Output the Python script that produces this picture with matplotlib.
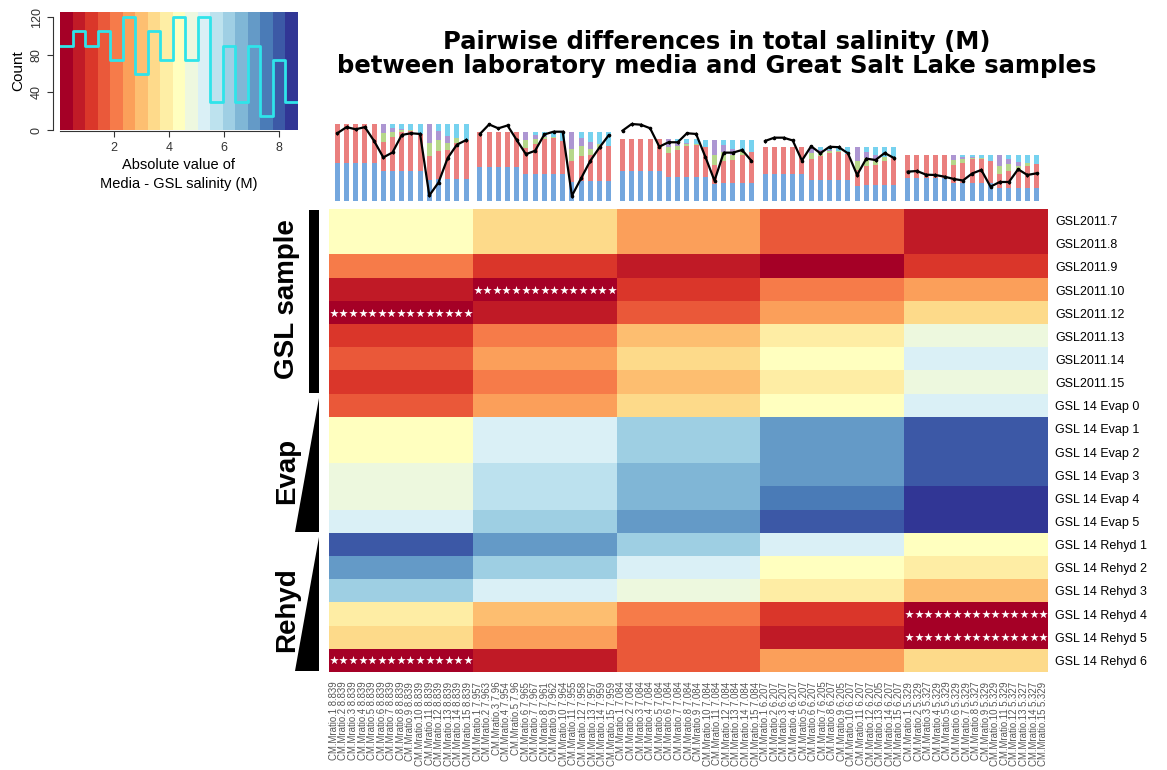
import numpy as np
import matplotlib
matplotlib.use("Agg")
import matplotlib.pyplot as plt
from matplotlib.colors import BoundaryNorm
from matplotlib.patches import Polygon, Rectangle

plt.rcParams['font.family'] = ['Liberation Sans', 'DejaVu Sans']

W, H = 1167, 770

# -- data
samples = ["GSL2011.7", "GSL2011.8", "GSL2011.9", "GSL2011.10", "GSL2011.12",
           "GSL2011.13", "GSL2011.14", "GSL2011.15", "GSL 14 Evap 0",
           "GSL 14 Evap 1", "GSL 14 Evap 2", "GSL 14 Evap 3", "GSL 14 Evap 4",
           "GSL 14 Evap 5", "GSL 14 Rehyd 1", "GSL 14 Rehyd 2", "GSL 14 Rehyd 3",
           "GSL 14 Rehyd 4", "GSL 14 Rehyd 5", "GSL 14 Rehyd 6"]

sample_groups = [("GSL sample", 8, "bar"), ("Evap", 6, "wedge"), ("Rehyd", 6, "wedge")]

# media salinity (M) of each CM.Mratio medium, one list per salinity level
media_sal = [
    [8.839] * 15,
    [7.957, 7.963, 7.96, 7.954, 7.96, 7.965, 7.967, 7.961, 7.962, 7.964, 7.955, 7.958, 7.957, 7.959, 7.959],
    [7.084] * 15,
    [6.207, 6.207, 6.207, 6.207, 6.207, 6.207, 6.205, 6.207, 6.205, 6.207, 6.207, 6.207, 6.205, 6.207, 6.207],
    [5.329, 5.329, 5.327, 5.329, 5.329, 5.329, 5.329, 5.327, 5.329, 5.329, 5.329, 5.327, 5.327, 5.327, 5.329],
]

# |media - GSL| salinity (M): rows = samples, columns = media salinity level
diff_M = np.array([
    [4.4, 3.5, 2.5, 1.6, 0.7],
    [4.4, 3.5, 2.5, 1.6, 0.7],
    [2.1, 1.2, 0.7, 0.3, 1.2],
    [0.7, 0.3, 1.2, 2.1, 2.5],
    [0.3, 0.7, 1.6, 2.5, 3.5],
    [1.2, 2.1, 3.0, 3.9, 4.8],
    [1.6, 2.5, 3.5, 4.4, 5.3],
    [1.2, 2.1, 3.0, 3.9, 4.8],
    [1.6, 2.5, 3.5, 4.4, 5.3],
    [4.4, 5.3, 6.2, 7.1, 8.0],
    [4.4, 5.3, 6.2, 7.1, 8.0],
    [4.8, 5.7, 6.6, 7.1, 8.0],
    [4.8, 5.7, 6.6, 7.6, 8.5],
    [5.3, 6.2, 7.1, 8.0, 8.5],
    [8.0, 7.1, 6.2, 5.3, 4.4],
    [7.1, 6.2, 5.3, 4.4, 3.9],
    [6.2, 5.3, 4.8, 3.9, 3.0],
    [3.9, 3.0, 2.1, 1.2, 0.3],
    [3.5, 2.5, 1.6, 0.7, 0.3],
    [0.3, 0.7, 1.6, 2.5, 3.5],
])

# (sample row, media level) cells marked with asterisks
star_cells = [(3, 1), (4, 0), (17, 4), (18, 4), (19, 0)]

# media composition (M) stacked in the top bar chart
blue_M = [
    [4.30, 4.30, 4.30, 4.30, 4.30, 3.40, 3.40, 3.40, 3.40, 3.40, 2.40, 2.50, 2.50, 2.50, 2.50],
    [3.87, 3.87, 3.87, 3.87, 3.87, 3.06, 3.06, 3.06, 3.06, 3.06, 2.16, 2.25, 2.25, 2.25, 2.25],
    [3.44, 3.44, 3.44, 3.44, 3.44, 2.72, 2.72, 2.72, 2.72, 2.72, 1.92, 2.00, 2.00, 2.00, 2.00],
    [3.01, 3.01, 3.01, 3.01, 3.01, 2.38, 2.38, 2.38, 2.38, 2.38, 1.68, 1.75, 1.75, 1.75, 1.75],
    [2.58, 2.58, 2.58, 2.58, 2.58, 2.04, 2.04, 2.04, 2.04, 2.04, 1.44, 1.50, 1.50, 1.50, 1.50],
]
red_M = [
    [4.54, 4.54, 4.54, 4.54, 4.54, 3.40, 3.90, 4.50, 4.65, 4.30, 2.70, 3.20, 3.30, 4.10, 4.50],
    [4.09, 4.09, 4.09, 4.09, 4.09, 3.06, 3.51, 4.05, 4.19, 3.87, 2.43, 2.88, 2.97, 3.69, 4.05],
    [3.63, 3.63, 3.63, 3.63, 3.63, 2.72, 3.12, 3.60, 3.72, 3.44, 2.16, 2.56, 2.64, 3.28, 3.60],
    [3.18, 3.18, 3.18, 3.18, 3.18, 2.38, 2.73, 3.15, 3.26, 3.01, 1.89, 2.24, 2.31, 2.87, 3.15],
    [2.72, 2.72, 2.72, 2.72, 2.72, 2.04, 2.34, 2.70, 2.79, 2.58, 1.62, 1.92, 1.98, 2.46, 2.70],
]
green_M = [
    [0, 0, 0, 0, 0, 1.00, 0.60, 0.20, 0.10, 0, 1.50, 1.30, 0.80, 0.60, 0],
    [0, 0, 0, 0, 0, 0.90, 0.54, 0.18, 0.09, 0, 1.35, 1.17, 0.72, 0.54, 0],
    [0, 0, 0, 0, 0, 0.80, 0.48, 0.16, 0.08, 0, 1.20, 1.04, 0.64, 0.48, 0],
    [0, 0, 0, 0, 0, 0.70, 0.42, 0.14, 0.07, 0, 1.05, 0.91, 0.56, 0.42, 0],
    [0, 0, 0, 0, 0, 0.60, 0.36, 0.12, 0.06, 0, 0.90, 0.78, 0.48, 0.36, 0],
]
purple_M = [
    [0, 0, 0, 0, 0, 1.04, 0.50, 0.20, 0, 0, 2.20, 1.00, 0.90, 0, 0],
    [0, 0, 0, 0, 0, 0.94, 0.45, 0.18, 0, 0, 1.98, 0.90, 0.81, 0, 0],
    [0, 0, 0, 0, 0, 0.83, 0.40, 0.16, 0, 0, 1.76, 0.80, 0.72, 0, 0],
    [0, 0, 0, 0, 0, 0.73, 0.35, 0.14, 0, 0, 1.54, 0.70, 0.63, 0, 0],
    [0, 0, 0, 0, 0, 0.62, 0.30, 0.12, 0, 0, 1.32, 0.60, 0.54, 0, 0],
]
cyan_M = [
    [0, 0, 0, 0, 0, 0, 0.45, 0.55, 0.70, 1.10, 0, 0.80, 1.30, 1.60, 1.80],
    [0, 0, 0, 0, 0, 0, 0.41, 0.50, 0.63, 0.99, 0, 0.72, 1.17, 1.44, 1.62],
    [0, 0, 0, 0, 0, 0, 0.36, 0.44, 0.56, 0.88, 0, 0.64, 1.04, 1.28, 1.44],
    [0, 0, 0, 0, 0, 0, 0.32, 0.39, 0.49, 0.77, 0, 0.56, 0.91, 1.12, 1.26],
    [0, 0, 0, 0, 0, 0, 0.27, 0.33, 0.42, 0.66, 0, 0.48, 0.78, 0.96, 1.08],
]
# black line over the bars
line_M = [
    [7.77, 8.48, 8.23, 8.48, 6.88, 4.98, 5.55, 7.57, 7.77, 7.69, 0.58, 2.08, 4.91, 6.45, 6.98],
    [7.69, 8.79, 8.34, 8.67, 6.99, 5.35, 5.75, 7.63, 7.95, 7.95, 0.54, 2.57, 4.59, 6.13, 7.54],
    [8.07, 8.84, 8.76, 8.35, 6.22, 6.73, 6.73, 7.77, 7.69, 5.06, 2.29, 5.53, 5.53, 5.84, 4.60],
    [6.88, 7.26, 7.26, 6.94, 4.62, 6.27, 5.46, 6.21, 6.16, 5.46, 2.95, 4.84, 4.68, 5.49, 4.91],
    [3.33, 3.41, 2.98, 2.95, 2.75, 2.49, 2.31, 3.12, 3.53, 1.60, 2.14, 2.14, 3.61, 2.95, 3.14],
]

# -- colour scale
breaks = np.linspace(0.03, 8.70, 20)
cmap = plt.get_cmap('RdYlBu', 19)
norm = BoundaryNorm(breaks, 19)

n_rows = len(samples)
n_grp = len(media_sal)
n_per = len(media_sal[0])
mat = np.repeat(diff_M, n_per, axis=1)

fig = plt.figure(figsize=(W / 100, H / 100), dpi=100)

# -- heatmap
ax_hm = fig.add_axes([329 / W, 1 - 672 / H, 719 / W, 463 / H])
ax_hm.imshow(mat, aspect='auto', cmap=cmap, norm=norm, interpolation='nearest')
for r, g in star_cells:
    xs = g * n_per + np.arange(n_per)
    ax_hm.scatter(xs, [r] * n_per, marker='*', s=42, c='white', linewidths=0, zorder=3)
col_labels = [f"CM.Mratio.{i + 1} {s}" for grp in media_sal for i, s in enumerate(grp)]
ax_hm.set_xticks(range(n_grp * n_per))
ax_hm.set_xticklabels(col_labels, rotation=90, fontsize=6.9, color='#555555')
ax_hm.yaxis.tick_right()
ax_hm.set_yticks(range(n_rows))
ax_hm.set_yticklabels(samples, fontsize=9)
ax_hm.tick_params(axis='x', length=0, pad=7)
ax_hm.tick_params(axis='y', length=0, pad=5)
for s in ax_hm.spines.values():
    s.set_visible(False)

# -- sample group annotations on the left
ax_side = fig.add_axes([260 / W, 1 - 672 / H, 65 / W, 463 / H])
ax_side.set_xlim(0, 65)
ax_side.set_ylim(n_rows - 0.5, -0.5)
ax_side.axis('off')
start = -0.5
for name, n, kind in sample_groups:
    top, bot = start, start + n
    if kind == "bar":
        ax_side.add_patch(Rectangle((49, top + 0.05), 10, n - 0.1, color='black', lw=0))
    else:
        ax_side.add_patch(Polygon([(59, top + 0.15), (59, bot - 0.05), (35, bot - 0.05)],
                                  closed=True, color='black', lw=0))
    ax_side.text(27, (top + bot) / 2 + (0.3 if kind == "wedge" else -0.1), name, rotation=90,
                 ha='center', va='center', fontsize=20, fontweight='bold')
    start = bot

# -- stacked composition bars
ax_bar = fig.add_axes([325 / W, 1 - 200.5 / H, 723 / W, 85.5 / H])
seg_colors = ['#74a7de', '#ea7f7e', '#b6d78a', '#ad96d2', '#76d2ef']
for g in range(n_grp):
    x = g * 15.5 + np.arange(n_per)
    bottom = np.zeros(n_per)
    for seg, col in zip([blue_M, red_M, green_M, purple_M, cyan_M], seg_colors):
        vals = np.array(seg[g])
        ax_bar.bar(x, vals, bottom=bottom, width=0.55, color=col, lw=0)
        bottom += vals
    ax_bar.errorbar(x, line_M[g], yerr=0.2, color='black', lw=1.6, marker='o', ms=1.6,
                    elinewidth=0.8, capsize=0, zorder=4)
ax_bar.set_xlim((325 - 337.3) / 9.2, (1048 - 337.3) / 9.2)
ax_bar.set_ylim(0, 9.88)
ax_bar.axis('off')

# -- colour key with histogram
ax_key = fig.add_axes([60 / W, 1 - 130 / H, 238 / W, 118.3 / H])
centers = (breaks[:-1] + breaks[1:]) / 2
ax_key.pcolormesh(breaks, [0, 126], centers.reshape(1, -1), cmap=cmap, norm=norm)
counts, _ = np.histogram(mat.ravel(), bins=breaks)
ax_key.step(breaks, np.append(counts, counts[-1]), where='post', color='#2fe4ea', lw=2)
ax_key.set_xlim(breaks[0], breaks[-1])
ax_key.set_ylim(0, 126)
ax_key.set_xticks([2, 4, 6, 8])
ax_key.set_yticks([0, 40, 80, 120])
ax_key.spines['top'].set_visible(False)
ax_key.spines['right'].set_visible(False)
ax_key.spines['left'].set_bounds(0, 120)
ax_key.spines['left'].set_position(('outward', 5))
ax_key.spines['bottom'].set_bounds(breaks[0], 8)
ax_key.spines['bottom'].set_position(('outward', 1))
for s in ('left', 'bottom'):
    ax_key.spines[s].set_color('#333333')
ax_key.tick_params(colors='#333333', labelsize=9, length=4)
ax_key.tick_params(axis='y', labelrotation=90)
for lbl in ax_key.get_yticklabels():
    lbl.set_va('center')
ax_key.set_ylabel("Count", fontsize=11, labelpad=4)
ax_key.set_xlabel("Absolute value of\nMedia - GSL salinity (M)", fontsize=10.5,
                  linespacing=1.5, labelpad=3)

fig.text(717 / W, 1 - 54 / H,
         "Pairwise differences in total salinity (M)\nbetween laboratory media and Great Salt Lake samples",
         ha='center', va='center', fontsize=17.5, fontweight='bold', linespacing=0.95,
         family='DejaVu Sans')

fig.savefig('out.png', dpi=100)
